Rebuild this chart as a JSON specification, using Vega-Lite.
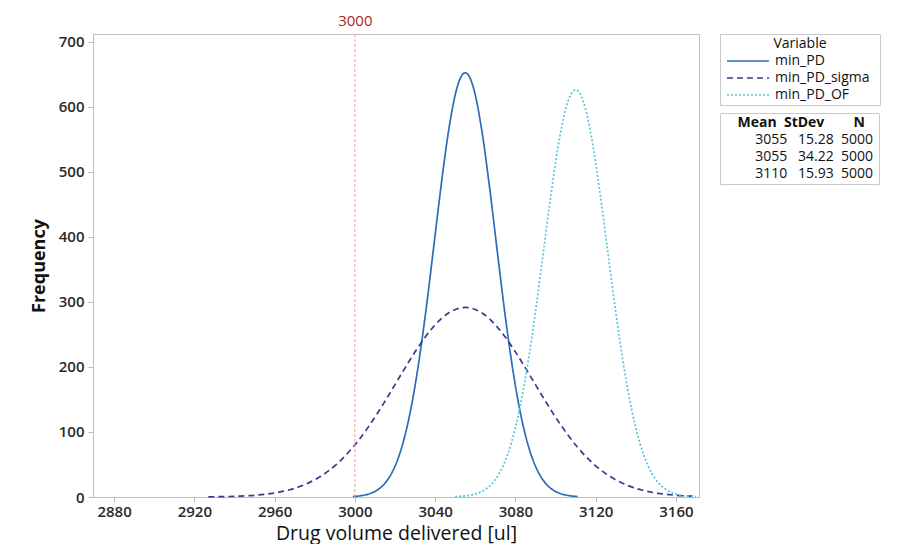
{
  "$schema": "https://vega.github.io/schema/vega-lite/v6.json",
  "width": 606,
  "height": 463,
  "autosize": {"type": "none"},
  "padding": {"left": 93, "top": 34, "right": 198, "bottom": 47},
  "background": "white",
  "config": {
    "font": "Open Sans",
    "view": {"stroke": "#BDBDBD", "strokeWidth": 1},
    "axis": {
      "grid": false,
      "domainColor": "#BDBDBD",
      "tickColor": "#BDBDBD",
      "tickSize": 5,
      "labelFont": "Open Sans",
      "labelFontSize": 15,
      "labelFontWeight": 600,
      "labelColor": "#2A2A2A",
      "titleFont": "Open Sans",
      "titleColor": "#111111"
    },
    "legend": {
      "labelFont": "Open Sans",
      "titleFont": "Open Sans",
      "labelColor": "#111111",
      "titleColor": "#111111"
    }
  },
  "resolve": {"axis": {"x": "independent"}},
  "layer": [
    {
      "data": {"values": [
        {"Variable": "min_PD", "volume": 2999, "freq": 0.8},
        {"Variable": "min_PD", "volume": 3003, "freq": 2.0},
        {"Variable": "min_PD", "volume": 3007, "freq": 4.7},
        {"Variable": "min_PD", "volume": 3011, "freq": 10.3},
        {"Variable": "min_PD", "volume": 3015, "freq": 21.2},
        {"Variable": "min_PD", "volume": 3019, "freq": 40.7},
        {"Variable": "min_PD", "volume": 3023, "freq": 72.8},
        {"Variable": "min_PD", "volume": 3027, "freq": 121.7},
        {"Variable": "min_PD", "volume": 3031, "freq": 190.0},
        {"Variable": "min_PD", "volume": 3035, "freq": 277.0},
        {"Variable": "min_PD", "volume": 3039, "freq": 377.1},
        {"Variable": "min_PD", "volume": 3043, "freq": 479.3},
        {"Variable": "min_PD", "volume": 3047, "freq": 568.8},
        {"Variable": "min_PD", "volume": 3051, "freq": 630.4},
        {"Variable": "min_PD", "volume": 3055, "freq": 652.4},
        {"Variable": "min_PD", "volume": 3059, "freq": 630.4},
        {"Variable": "min_PD", "volume": 3063, "freq": 568.8},
        {"Variable": "min_PD", "volume": 3067, "freq": 479.3},
        {"Variable": "min_PD", "volume": 3071, "freq": 377.1},
        {"Variable": "min_PD", "volume": 3075, "freq": 277.0},
        {"Variable": "min_PD", "volume": 3079, "freq": 190.0},
        {"Variable": "min_PD", "volume": 3083, "freq": 121.7},
        {"Variable": "min_PD", "volume": 3087, "freq": 72.8},
        {"Variable": "min_PD", "volume": 3091, "freq": 40.7},
        {"Variable": "min_PD", "volume": 3095, "freq": 21.2},
        {"Variable": "min_PD", "volume": 3099, "freq": 10.3},
        {"Variable": "min_PD", "volume": 3103, "freq": 4.7},
        {"Variable": "min_PD", "volume": 3107, "freq": 2.0},
        {"Variable": "min_PD", "volume": 3111, "freq": 0.8},
        {"Variable": "min_PD_sigma", "volume": 2927, "freq": 0.3},
        {"Variable": "min_PD_sigma", "volume": 2935, "freq": 0.6},
        {"Variable": "min_PD_sigma", "volume": 2943, "freq": 1.4},
        {"Variable": "min_PD_sigma", "volume": 2951, "freq": 2.9},
        {"Variable": "min_PD_sigma", "volume": 2959, "freq": 5.7},
        {"Variable": "min_PD_sigma", "volume": 2967, "freq": 10.7},
        {"Variable": "min_PD_sigma", "volume": 2975, "freq": 19.0},
        {"Variable": "min_PD_sigma", "volume": 2983, "freq": 31.9},
        {"Variable": "min_PD_sigma", "volume": 2991, "freq": 50.7},
        {"Variable": "min_PD_sigma", "volume": 2999, "freq": 76.4},
        {"Variable": "min_PD_sigma", "volume": 3007, "freq": 109.0},
        {"Variable": "min_PD_sigma", "volume": 3015, "freq": 147.2},
        {"Variable": "min_PD_sigma", "volume": 3023, "freq": 188.2},
        {"Variable": "min_PD_sigma", "volume": 3031, "freq": 227.9},
        {"Variable": "min_PD_sigma", "volume": 3039, "freq": 261.3},
        {"Variable": "min_PD_sigma", "volume": 3047, "freq": 283.6},
        {"Variable": "min_PD_sigma", "volume": 3055, "freq": 291.5},
        {"Variable": "min_PD_sigma", "volume": 3063, "freq": 283.6},
        {"Variable": "min_PD_sigma", "volume": 3071, "freq": 261.3},
        {"Variable": "min_PD_sigma", "volume": 3079, "freq": 227.9},
        {"Variable": "min_PD_sigma", "volume": 3087, "freq": 188.2},
        {"Variable": "min_PD_sigma", "volume": 3095, "freq": 147.2},
        {"Variable": "min_PD_sigma", "volume": 3103, "freq": 109.0},
        {"Variable": "min_PD_sigma", "volume": 3111, "freq": 76.4},
        {"Variable": "min_PD_sigma", "volume": 3119, "freq": 50.7},
        {"Variable": "min_PD_sigma", "volume": 3127, "freq": 31.9},
        {"Variable": "min_PD_sigma", "volume": 3135, "freq": 19.0},
        {"Variable": "min_PD_sigma", "volume": 3143, "freq": 10.7},
        {"Variable": "min_PD_sigma", "volume": 3151, "freq": 5.7},
        {"Variable": "min_PD_sigma", "volume": 3159, "freq": 2.9},
        {"Variable": "min_PD_sigma", "volume": 3167, "freq": 1.4},
        {"Variable": "min_PD_sigma", "volume": 3170, "freq": 1.0},
        {"Variable": "min_PD_OF", "volume": 3050, "freq": 0.5},
        {"Variable": "min_PD_OF", "volume": 3054, "freq": 1.3},
        {"Variable": "min_PD_OF", "volume": 3058, "freq": 3.0},
        {"Variable": "min_PD_OF", "volume": 3062, "freq": 6.7},
        {"Variable": "min_PD_OF", "volume": 3066, "freq": 13.8},
        {"Variable": "min_PD_OF", "volume": 3070, "freq": 26.8},
        {"Variable": "min_PD_OF", "volume": 3074, "freq": 48.7},
        {"Variable": "min_PD_OF", "volume": 3078, "freq": 83.3},
        {"Variable": "min_PD_OF", "volume": 3082, "freq": 133.6},
        {"Variable": "min_PD_OF", "volume": 3086, "freq": 201.3},
        {"Variable": "min_PD_OF", "volume": 3090, "freq": 284.7},
        {"Variable": "min_PD_OF", "volume": 3094, "freq": 378.1},
        {"Variable": "min_PD_OF", "volume": 3098, "freq": 471.4},
        {"Variable": "min_PD_OF", "volume": 3102, "freq": 551.9},
        {"Variable": "min_PD_OF", "volume": 3106, "freq": 606.7},
        {"Variable": "min_PD_OF", "volume": 3110, "freq": 626.1},
        {"Variable": "min_PD_OF", "volume": 3114, "freq": 606.7},
        {"Variable": "min_PD_OF", "volume": 3118, "freq": 551.9},
        {"Variable": "min_PD_OF", "volume": 3122, "freq": 471.4},
        {"Variable": "min_PD_OF", "volume": 3126, "freq": 378.1},
        {"Variable": "min_PD_OF", "volume": 3130, "freq": 284.7},
        {"Variable": "min_PD_OF", "volume": 3134, "freq": 201.3},
        {"Variable": "min_PD_OF", "volume": 3138, "freq": 133.6},
        {"Variable": "min_PD_OF", "volume": 3142, "freq": 83.3},
        {"Variable": "min_PD_OF", "volume": 3146, "freq": 48.7},
        {"Variable": "min_PD_OF", "volume": 3150, "freq": 26.8},
        {"Variable": "min_PD_OF", "volume": 3154, "freq": 13.8},
        {"Variable": "min_PD_OF", "volume": 3158, "freq": 6.7},
        {"Variable": "min_PD_OF", "volume": 3162, "freq": 3.0},
        {"Variable": "min_PD_OF", "volume": 3166, "freq": 1.3},
        {"Variable": "min_PD_OF", "volume": 3170, "freq": 0.5}
      ]},
      "mark": {"type": "line", "strokeWidth": 1.7, "interpolate": "monotone"},
      "encoding": {
        "x": {
          "field": "volume", "type": "quantitative",
          "scale": {"domain": [2869.5, 3171.5], "nice": false, "zero": false},
          "axis": {
            "orient": "bottom",
            "values": [2880, 2920, 2960, 3000, 3040, 3080, 3120, 3160],
            "format": "d",
            "labelPadding": 2,
            "title": "Drug volume delivered [ul]",
            "titleFontSize": 19.5,
            "titleFontWeight": "normal",
            "titlePadding": 5
          }
        },
        "y": {
          "field": "freq", "type": "quantitative",
          "scale": {"domain": [0, 712], "nice": false},
          "axis": {
            "values": [0, 100, 200, 300, 400, 500, 600, 700],
            "format": "d",
            "labelPadding": 4,
            "title": "Frequency",
            "titleFontSize": 18,
            "titleFontWeight": "bold",
            "titlePadding": 10
          }
        },
        "color": {
          "field": "Variable", "type": "nominal",
          "scale": {"domain": ["min_PD", "min_PD_sigma", "min_PD_OF"], "range": ["#2E6CB8", "#3A3A8E", "#55C6D6"]},
          "legend": {
            "orient": "none", "legendX": 627, "legendY": 0,
            "title": "Variable", "titleFontSize": 14, "titleFontWeight": "normal", "titleAnchor": "middle", "titlePadding": 3,
            "labelFontSize": 14, "labelExpr": "datum.label + '\u00a0\u00a0\u200b'",
            "symbolType": "M-4,0H4", "symbolSize": 110, "symbolStrokeWidth": 1.5,
            "symbolOffset": 18, "labelOffset": 20, "strokeColor": "#C8C8C8", "padding": 3, "rowPadding": 3
          }
        },
        "strokeDash": {
          "field": "Variable", "type": "nominal",
          "scale": {"domain": ["min_PD", "min_PD_sigma", "min_PD_OF"], "range": [[1, 0], [6, 4], [2, 2]]},
          "legend": {
            "orient": "none", "legendX": 627, "legendY": 0,
            "title": "Variable", "titleFontSize": 14, "titleFontWeight": "normal", "titleAnchor": "middle", "titlePadding": 3,
            "labelFontSize": 14, "labelExpr": "datum.label + '\u00a0\u00a0\u200b'",
            "symbolType": "M-4,0H4", "symbolSize": 110, "symbolStrokeWidth": 1.5,
            "symbolOffset": 18, "labelOffset": 20, "strokeColor": "#C8C8C8", "padding": 3, "rowPadding": 3
          }
        }
      }
    },
    {
      "data": {"values": [{"ref": 3000}]},
      "mark": {"type": "rule", "color": "#EE9AA2", "strokeWidth": 1, "strokeDash": [3, 2]},
      "encoding": {
        "x": {
          "field": "ref", "type": "quantitative",
          "axis": {
            "orient": "top", "values": [3000], "format": "d", "domain": false, "ticks": false, "tickSize": 0,
            "labelColor": "#B22222", "labelFontWeight": "normal", "labelFontSize": 15, "labelPadding": 6,
            "title": null
          }
        }
      }
    },
    {
      "data": {"values": [
        {"Stats": "3055 15.28 5000"},
        {"Stats": "3055 34.22 5000"},
        {"Stats": "3110 15.93 5000"}
      ]},
      "mark": {"type": "point", "opacity": 0},
      "encoding": {
        "shape": {
          "field": "Stats", "type": "nominal",
          "legend": {
            "orient": "none", "legendX": 627, "legendY": 79,
            "title": "\u200b\u00a0\u00a0\u00a0\u00a0Mean\u00a0\u00a0StDev\u00a0\u00a0\u00a0\u00a0\u00a0\u00a0\u00a0\u00a0N\u00a0\u00a0\u00a0\u200b",
            "titleFontSize": 14, "titleFontWeight": "bold", "titlePadding": 3,
            "labelFontSize": 14,
            "labelExpr": "'\u200b\u00a0\u00a0\u00a0\u00a0\u00a0' + split(datum.label, ' ')[0] + '\u00a0\u00a0\u00a0' + split(datum.label, ' ')[1] + '\u00a0\u00a0' + split(datum.label, ' ')[2]",
            "symbolType": "circle", "symbolSize": 0, "symbolOpacity": 0, "symbolStrokeWidth": 0,
            "symbolOffset": 0, "labelOffset": 0,
            "strokeColor": "#C8C8C8", "padding": 3, "rowPadding": 3
          }
        }
      }
    }
  ]
}
